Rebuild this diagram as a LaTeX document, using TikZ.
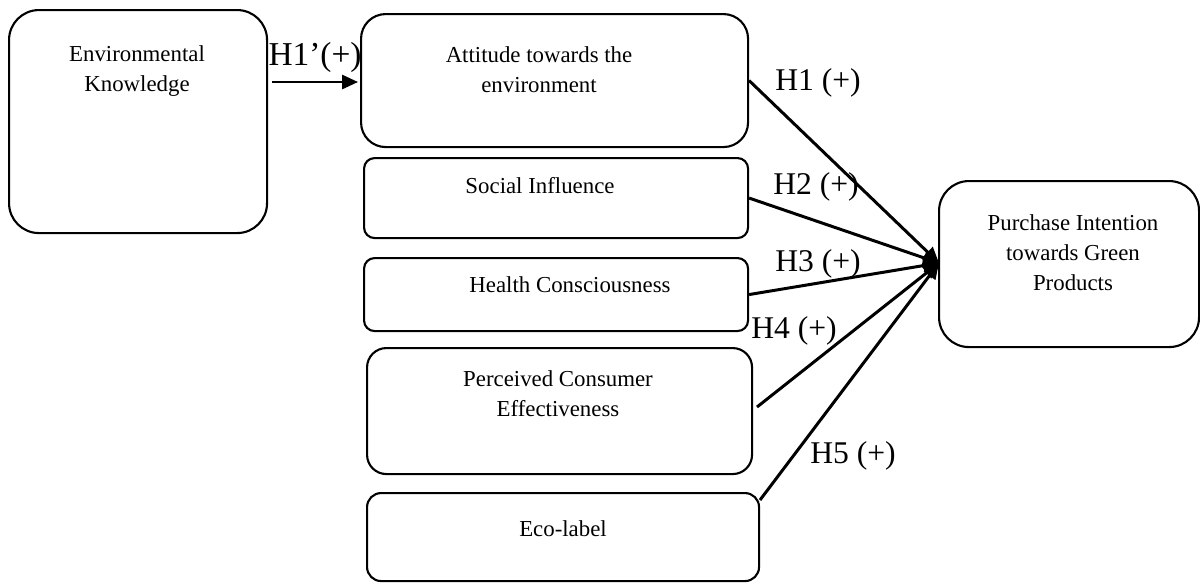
\documentclass[tikz,border=0pt]{standalone}
\usepackage{fontspec}
\setmainfont{Liberation Serif}
\usetikzlibrary{arrows.meta}
\begin{document}
\begin{tikzpicture}[x=0.02cm,y=-0.02cm,
  box/.style={draw,line width=1.2pt,inner sep=0pt,anchor=north west},
  txt/.style={font=\fontsize{13}{17}\selectfont,align=center,inner sep=0pt},
  hlab/.style={font=\fontsize{18}{20}\selectfont,inner sep=0pt},
  link/.style={line width=1.7pt,-{Triangle[length=9pt,width=8pt]}},
]
\useasboundingbox (0,0) rectangle (1200,583);
% boxes
\node[box,rounded corners=17pt,minimum width=258*0.02cm,minimum height=223*0.02cm] (ek) at (8,9) {};
\node[box,rounded corners=14pt,minimum width=387*0.02cm,minimum height=133*0.02cm] (att) at (360,13) {};
\node[box,rounded corners=6pt,minimum width=384*0.02cm,minimum height=80*0.02cm] (soc) at (363,157) {};
\node[box,rounded corners=6pt,minimum width=384*0.02cm,minimum height=73*0.02cm] (hc) at (363,257) {};
\node[box,rounded corners=11pt,minimum width=385*0.02cm,minimum height=126*0.02cm] (pce) at (366,347) {};
\node[box,rounded corners=8pt,minimum width=392*0.02cm,minimum height=88*0.02cm] (eco) at (366,492) {};
\node[box,rounded corners=17pt,minimum width=260*0.02cm,minimum height=166*0.02cm] (pi) at (938,180) {};
% texts
\node[txt] (ekt) at (137,71) {Environmental\\Knowledge};
\node[txt] (attt) at (539,70) {Attitude towards the\\environment};
\node[txt] (soct) at (540,186) {Social Influence};
\node[txt] (hct) at (570,285) {Health Consciousness};
\node[txt] (pcet) at (558,394) {Perceived Consumer\\Effectiveness};
\node[txt] (ecot) at (563,529) {Eco-label};
\node[txt] (pit) at (1073,253) {Purchase Intention\\towards Green\\Products};
% labels
\node[hlab,font=\fontsize{19}{21}\selectfont] (l1p) at (315,57) {H1’(+)};
\node[hlab] (l1) at (818,83) {H1 (+)};
\node[hlab] (l2) at (816,187) {H2 (+)};
\node[hlab] (l3) at (818,264) {H3 (+)};
\node[hlab] (l4) at (794,331) {H4 (+)};
\node[hlab] (l5) at (853,456) {H5 (+)};
% connectors
\coordinate (s1p) at (272,82);
\coordinate (e1p) at (358,82);
\coordinate (s4) at (757,407);
\coordinate (s5) at (760,500);
\coordinate (tgt) at (939,263);
\draw[line width=1.3pt,-{Triangle[length=9pt,width=8pt]}] (s1p) -- (e1p);
\draw[link] (att.east) -- (tgt);
\draw[link] (soc.east) -- (tgt);
\draw[link] (hc.east) -- (tgt);
\draw[link] (s4) -- (tgt);
\draw[link] (s5) -- (tgt);
\end{tikzpicture}
\end{document}
